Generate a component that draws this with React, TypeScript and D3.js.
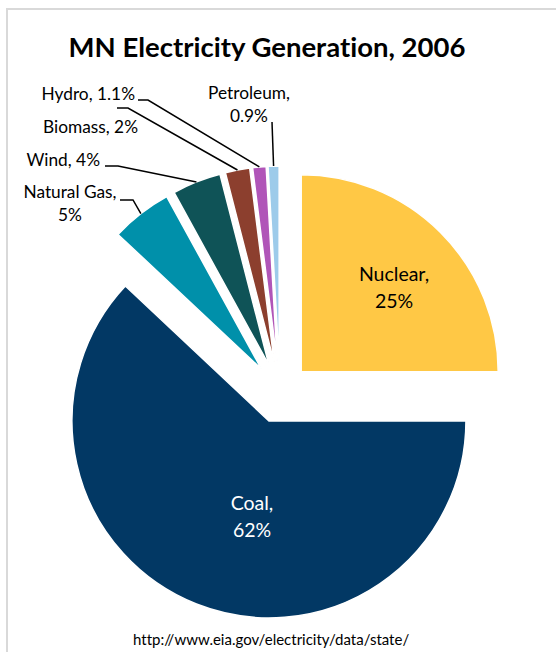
import React from "react";
import * as d3 from "d3";

// Minnesota electricity generation shares, 2006 (percent)
const sources = ["Nuclear", "Coal", "Natural Gas", "Wind", "Biomass", "Hydro", "Petroleum"];
const shares = [25, 62, 5, 4, 2, 1.1, 0.9];
const colors = ["#FFC845", "#023864", "#0090AA", "#0F5357", "#8C3F2E", "#B055B8", "#9DCBEA"];

const W = 556;
const H = 652;
const CX = 280;
const CY = 393;
const R = 197;
const EXPLODE = 30;

type LabelSpec = {
  inside: boolean;
  x: number;
  y: number;
  anchor: "start" | "middle" | "end";
  lines: string[];
  // leader: horizontal stub start/end before the diagonal run to the slice
  stub?: [number, number, number];
  fill?: string;
};

const labelLayout: Record<string, LabelSpec> = {
  Nuclear: { inside: true, x: 394, y: 281, anchor: "middle", lines: ["Nuclear,", "25%"], fill: "#000" },
  Coal: { inside: true, x: 252, y: 510, anchor: "middle", lines: ["Coal,", "62%"], fill: "#fff" },
  "Natural Gas": { inside: false, x: 70, y: 198, anchor: "middle", lines: ["Natural Gas,", "5%"], stub: [120, 133, 200] },
  Wind: { inside: false, x: 100, y: 166, anchor: "end", lines: ["Wind, 4%"], stub: [105, 118, 166] },
  Biomass: { inside: false, x: 138, y: 133, anchor: "end", lines: ["Biomass, 2%"], stub: [117, 128, 108] },
  Hydro: { inside: false, x: 135, y: 100, anchor: "end", lines: ["Hydro, 1.1%"], stub: [138, 148, 100] },
  Petroleum: { inside: false, x: 249, y: 99, anchor: "middle", lines: ["Petroleum,", "0.9%"], stub: [272, 272, 122] },
};

const FONT = "Lato, 'Open Sans', sans-serif";

export default function App() {
  const data = sources.map((name, i) => ({ name, value: shares[i], color: colors[i] }));
  const pie = d3.pie<(typeof data)[number]>().value((d) => d.value).sort(null);
  const arcs = pie(data);
  const arc = d3.arc<d3.PieArcDatum<(typeof data)[number]>>().innerRadius(0).outerRadius(R);

  return (
    <svg
      width={W}
      height={H}
      style={{ position: "absolute", left: 0, top: 0, background: "#fff", fontVariantLigatures: "none" }}
      fontFamily={FONT}
    >
      <rect x={0} y={0} width={W} height={H} fill="#fff" />
      <path d={`M7,${H} L7,9 L${W},9`} fill="none" stroke="#D9D9D9" strokeWidth={2} />

      <text x={267} y={57} textAnchor="middle" fontSize={27.5} fontWeight={700} fill="#000">
        MN Electricity Generation, 2006
      </text>

      {arcs.map((a) => {
        const mid = (a.startAngle + a.endAngle) / 2;
        const dx = Math.sin(mid) * EXPLODE;
        const dy = -Math.cos(mid) * EXPLODE;
        return (
          <path
            key={a.data.name}
            d={arc(a) || ""}
            transform={`translate(${CX + dx},${CY + dy})`}
            fill={a.data.color}
            stroke="#fff"
            strokeWidth={1.5}
          />
        );
      })}

      {arcs.map((a) => {
        const spec = labelLayout[a.data.name];
        const mid = (a.startAngle + a.endAngle) / 2;
        const ox = CX + Math.sin(mid) * (EXPLODE + R);
        const oy = CY - Math.cos(mid) * (EXPLODE + R);
        const fs = spec.inside ? 19.5 : 17.3;
        const lh = spec.inside ? 27 : 23;
        return (
          <g key={`lbl-${a.data.name}`}>
            {spec.stub && (
              <polyline
                points={`${spec.stub[0]},${spec.stub[2]} ${spec.stub[1]},${spec.stub[2]} ${ox},${oy}`}
                fill="none"
                stroke="#000"
                strokeWidth={1.5}
              />
            )}
            <text
              x={spec.x}
              y={spec.y}
              textAnchor={spec.anchor}
              fontSize={fs}
              fill={spec.fill || "#000"}
            >
              {spec.lines.map((ln, j) => (
                <tspan key={j} x={spec.x} dy={j === 0 ? 0 : lh}>
                  {ln}
                </tspan>
              ))}
            </text>
          </g>
        );
      })}

      <text x={133} y={645} fontSize={15} fill="#000">
        http://www.eia.gov/electricity/data/state/
      </text>
    </svg>
  );
}
